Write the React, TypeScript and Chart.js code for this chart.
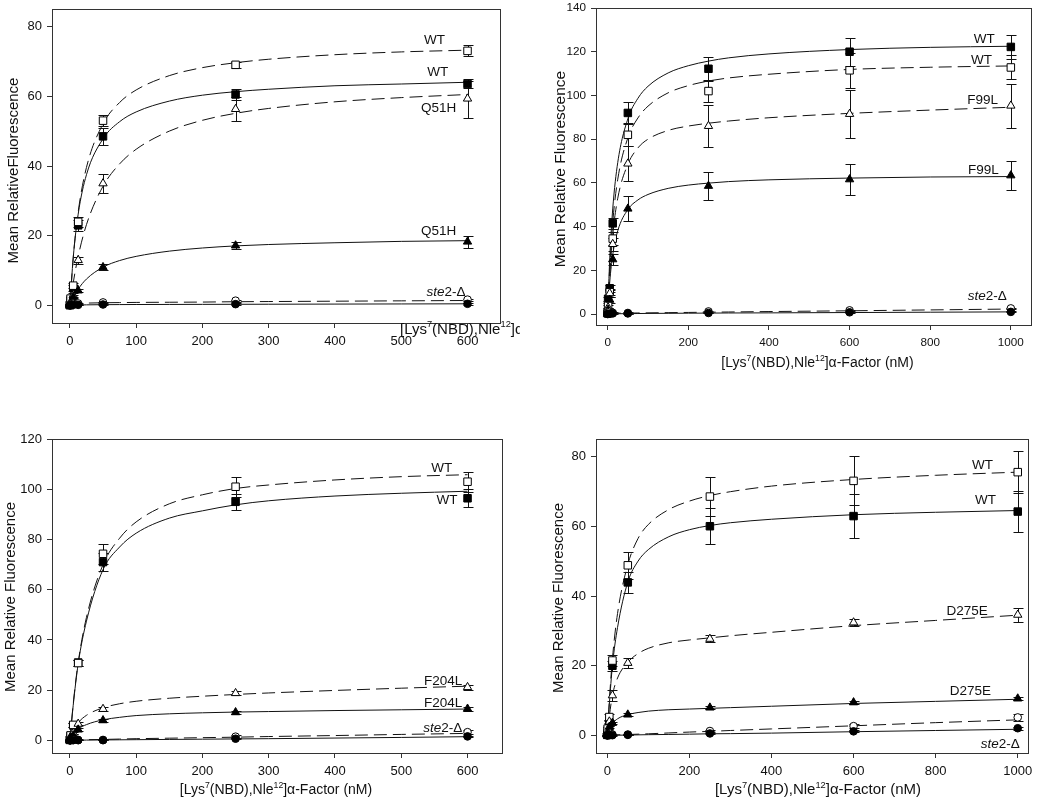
import React, { useEffect, useRef } from "react";
import { Chart, registerables } from "chart.js";

Chart.register(...registerables);

const FONT = "'Liberation Sans', Arial, Helvetica, sans-serif";

// ---------------- Panel A : Q51H ----------------
const concA = [0, 1, 5, 12.5, 50, 250, 600];
const wtOpenA = [0.2, 2.0, 5.7, 24.0, 53.0, 69.0, 73.0];
const wtOpenErrA = [0.3, 0.5, 0.8, 1.5, 1.6, 0.8, 1.6];
const wtFillA = [0.1, 1.5, 5.0, 23.0, 48.5, 60.5, 63.5];
const wtFillErrA = [0.2, 0.5, 0.8, 1.5, 2.5, 1.6, 1.0];
const q51hOpenA = [0.1, 1.0, 3.0, 13.0, 35.0, 56.3, 59.3];
const q51hOpenErrA = [0.2, 0.3, 0.5, 1.0, 2.8, 3.5, 5.6];
const q51hFillA = [0.0, 0.5, 2.5, 4.3, 11.0, 17.2, 18.3];
const q51hFillErrA = [0.1, 0.2, 0.4, 0.5, 0.8, 1.0, 1.7];
const steOpenA = [0.2, 0.3, 0.5, 0.6, 0.9, 1.4, 1.7];
const steOpenErrA = [0.2, 0.2, 0.2, 0.2, 0.2, 0.3, 0.3];
const steFillA = [0.0, 0.1, 0.2, 0.2, 0.3, 0.4, 0.5];
const steFillErrA = [0.1, 0.1, 0.1, 0.1, 0.1, 0.2, 0.2];

const curveXA = [0, 5, 12.5, 25, 50, 75, 100, 150, 200, 250, 300, 400, 500, 600];
const wtOpenCurveA = [0, 13.6, 26.8, 39.6, 52.1, 58.2, 61.8, 65.9, 68.2, 69.6, 70.6, 71.9, 72.7, 73.2];
const wtFillCurveA = [0, 13.7, 26.2, 37.5, 47.8, 52.7, 55.5, 58.6, 60.3, 61.3, 62.0, 63.0, 63.5, 64.0];
const q51hOpenCurveA = [0, 6.5, 14.1, 23.2, 34.2, 40.6, 44.8, 50.0, 53.1, 55.1, 56.5, 58.4, 59.6, 60.5];
const q51hFillCurveA = [0, 2.2, 4.7, 7.6, 11.0, 12.9, 14.1, 15.6, 16.5, 17.1, 17.5, 18.0, 18.4, 18.6];
const steOpenCurveA = [0.6, 0.6, 0.6, 0.7, 0.8, 0.85, 0.9, 0.95, 1.0, 1.1, 1.15, 1.25, 1.35, 1.45];
const steFillCurveA = [0, 0.1, 0.15, 0.2, 0.25, 0.28, 0.3, 0.32, 0.34, 0.36, 0.38, 0.42, 0.46, 0.5];

// ---------------- Panel B : F99L ----------------
const concB = [0, 1, 5, 12.5, 50, 250, 600, 1000];
const wtFillB = [0.5, 7.0, 11.8, 41.5, 92.0, 112.2, 120.0, 122.2];
const wtFillErrB = [0.3, 1.0, 1.5, 2.5, 4.8, 5.3, 6.5, 5.3];
const wtOpenB = [0.3, 4.0, 10.0, 34.5, 82.0, 102.0, 111.5, 112.8];
const wtOpenErrB = [0.3, 1.0, 1.5, 3.0, 5.0, 4.8, 8.0, 5.5];
const f99lOpenB = [0.2, 3.0, 9.5, 32.0, 68.8, 86.0, 91.5, 95.3];
const f99lOpenErrB = [0.3, 1.0, 1.5, 3.0, 8.0, 9.5, 11.0, 10.0];
const f99lFillB = [0.1, 2.0, 6.5, 25.0, 48.2, 58.6, 61.6, 63.4];
const f99lFillErrB = [0.2, 0.8, 1.5, 2.5, 5.7, 6.3, 7.2, 6.8];
const steOpenB = [0.5, 0.8, 1.0, 0.6, 0.5, 1.2, 1.7, 2.6];
const steOpenErrB = [0.3, 0.3, 0.3, 0.3, 0.3, 0.3, 0.3, 0.3];
const steFillB = [0.0, 0.1, 0.2, 0.3, 0.3, 0.5, 0.8, 1.0];
const steFillErrB = [0.1, 0.1, 0.1, 0.1, 0.1, 0.2, 0.2, 0.2];

const curveXB = [0, 5, 12.5, 25, 50, 75, 100, 150, 200, 250, 300, 400, 600, 800, 1000];
const wtFillCurveB = [0, 25.0, 48.1, 69.4, 89.3, 98.7, 104.2, 110.3, 113.6, 115.7, 117.2, 119.0, 121.0, 122.0, 122.5];
const wtOpenCurveB = [0, 21.1, 42.0, 61.7, 80.6, 89.7, 95.1, 101.2, 104.5, 106.6, 108.0, 109.7, 111.9, 112.9, 113.5];
const f99lOpenCurveB = [0, 17.0, 36.0, 53.0, 68.5, 76.0, 80.0, 84.0, 86.0, 87.3, 88.3, 89.8, 91.8, 93.3, 94.6];
const f99lFillCurveB = [0, 14.5, 27.1, 38.1, 47.8, 52.2, 54.7, 57.5, 59.0, 59.9, 60.6, 61.4, 62.2, 62.7, 62.9];
const steOpenCurveB = [0.3, 0.3, 0.35, 0.4, 0.45, 0.5, 0.55, 0.65, 0.75, 0.85, 0.95, 1.15, 1.5, 1.9, 2.3];
const steFillCurveB = [0, 0.05, 0.1, 0.15, 0.2, 0.25, 0.3, 0.35, 0.4, 0.45, 0.5, 0.55, 0.7, 0.85, 1.0];

// ---------------- Panel C : F204L ----------------
const concC = [0, 1, 5, 12.5, 50, 250, 600];
const wtOpenC = [0.3, 2.0, 6.2, 30.8, 74.3, 101.0, 103.0];
const wtOpenErrC = [0.3, 0.5, 0.8, 1.2, 4.0, 4.0, 4.0];
const wtFillC = [0.2, 1.8, 6.0, 31.0, 71.0, 95.0, 96.4];
const wtFillErrC = [0.3, 0.5, 0.8, 1.2, 3.5, 3.3, 3.6];
const f204lOpenC = [0.1, 1.5, 3.0, 6.6, 12.5, 18.8, 21.2];
const f204lOpenErrC = [0.2, 0.3, 0.5, 0.6, 0.8, 0.8, 1.0];
const f204lFillC = [0.0, 1.0, 2.0, 4.3, 8.0, 11.2, 12.6];
const f204lFillErrC = [0.1, 0.3, 0.4, 0.5, 0.6, 0.7, 0.8];
const steOpenC = [0.1, 0.2, 0.3, 0.2, 0.2, 1.5, 3.3];
const steOpenErrC = [0.2, 0.2, 0.2, 0.2, 0.2, 0.5, 0.8];
const steFillC = [0.0, 0.1, 0.1, 0.1, 0.1, 0.7, 1.6];
const steFillErrC = [0.1, 0.1, 0.1, 0.1, 0.1, 0.2, 0.3];

const curveXC = [0, 5, 12.5, 25, 50, 75, 100, 150, 200, 250, 300, 400, 500, 600];
const wtOpenCurveC = [0, 14.5, 31.0, 49.0, 70.0, 80.5, 87.0, 94.2, 97.8, 100.3, 101.7, 103.7, 105.0, 105.8];
const wtFillCurveC = [0, 14.0, 30.5, 47.5, 68.0, 77.0, 82.5, 88.5, 91.4, 93.8, 95.4, 97.3, 98.4, 99.2];
const f204lOpenCurveC = [0, 3.5, 7.0, 10.0, 13.0, 14.6, 15.6, 16.8, 17.6, 18.3, 18.9, 19.9, 20.8, 21.6];
const f204lFillCurveC = [0, 2.0, 4.5, 6.3, 8.2, 9.2, 9.9, 10.6, 11.0, 11.3, 11.5, 11.9, 12.2, 12.5];
const steOpenCurveC = [0.1, 0.15, 0.2, 0.3, 0.4, 0.55, 0.7, 0.9, 1.1, 1.3, 1.55, 1.95, 2.4, 2.8];
const steFillCurveC = [0, 0.05, 0.1, 0.15, 0.2, 0.25, 0.3, 0.4, 0.5, 0.6, 0.7, 0.95, 1.2, 1.5];

// ---------------- Panel D : D275E ----------------
const concD = [0, 1, 5, 12.5, 50, 250, 600, 1000];
const wtOpenD = [0.3, 2.0, 5.3, 21.5, 48.8, 68.5, 73.0, 75.5];
const wtOpenErrD = [0.3, 0.5, 0.8, 1.5, 3.8, 5.5, 7.0, 6.0];
const wtFillD = [0.2, 1.5, 3.5, 20.0, 43.9, 60.0, 62.9, 64.2];
const wtFillErrD = [0.3, 0.5, 0.8, 1.5, 3.0, 5.2, 6.3, 5.8];
const d275eOpenD = [0.1, 1.0, 4.0, 11.5, 20.8, 27.7, 32.4, 34.6];
const d275eOpenErrD = [0.2, 0.3, 0.5, 1.5, 1.5, 1.0, 1.0, 2.0];
const d275eFillD = [0.0, 0.8, 2.5, 3.6, 6.0, 8.0, 9.5, 10.6];
const d275eFillErrD = [0.1, 0.2, 0.3, 0.4, 0.4, 0.4, 0.5, 0.5];
const steOpenD = [0.1, 0.2, 0.3, 0.3, 0.3, 1.3, 2.7, 5.2];
const steOpenErrD = [0.2, 0.2, 0.2, 0.2, 0.2, 0.4, 0.6, 1.0];
const steFillD = [0.0, 0.1, 0.1, 0.1, 0.2, 0.6, 1.2, 2.1];
const steFillErrD = [0.1, 0.1, 0.1, 0.1, 0.1, 0.2, 0.3, 0.4];

const curveXD = [0, 5, 12.5, 25, 50, 75, 100, 150, 200, 250, 300, 400, 600, 800, 1000];
const wtOpenCurveD = [0, 10.0, 22.0, 35.0, 49.0, 56.5, 60.5, 64.8, 67.2, 68.8, 69.9, 71.5, 73.4, 74.6, 75.5];
const wtFillCurveD = [0, 9.0, 20.0, 31.0, 44.0, 50.0, 53.3, 57.0, 59.0, 60.2, 61.0, 62.0, 63.3, 64.0, 64.5];
const d275eOpenCurveD = [0, 5.5, 11.5, 16.5, 21.0, 23.5, 25.0, 26.6, 27.4, 28.0, 28.6, 29.6, 31.5, 33.0, 34.5];
const d275eFillCurveD = [0, 1.6, 3.4, 4.8, 6.0, 6.6, 7.0, 7.4, 7.6, 7.8, 8.0, 8.4, 9.2, 9.8, 10.4];
const steOpenCurveD = [0, 0.05, 0.1, 0.2, 0.3, 0.4, 0.5, 0.75, 1.0, 1.2, 1.45, 1.9, 2.8, 3.7, 4.5];
const steFillCurveD = [0, 0.03, 0.06, 0.1, 0.15, 0.2, 0.25, 0.32, 0.4, 0.5, 0.55, 0.7, 1.1, 1.45, 1.8];

// ---------------- text ----------------
const yTitleFull = "Mean Relative Fluorescence";
const yTitleA = "Mean RelativeFluorescence";
const xTitleFull: [string, boolean][] = [
  ["[Lys", false], ["7", true], ["(NBD),Nle", false], ["12", true], ["]\u03b1-Factor (nM)", false],
];
const xTitleA: [string, boolean][] = [
  ["[Lys", false], ["7", true], ["(NBD),Nle", false], ["12", true], ["]\u03b1", false],
];

type Series = { x: number[]; y: number[]; err: number[]; cx: number[]; cy: number[]; marker: "rect" | "triangle" | "circle"; filled: boolean };
type Label = { text: string; x: number; y: number; ste?: boolean };
type PanelCfg = {
  canvas: { left: number; top: number; w: number; h: number };
  box: { l: number; t: number; r: number; b: number };
  xMin: number; xMax: number; xStep: number;
  yMin: number; yMax: number; yStep: number;
  tickSize: number;
  yTitle: string; yTitleBase: number; yTitleMid: number; yTitleSize: number;
  xTitle: [string, boolean][]; xTitleX: number; xTitleBase: number; xTitleAlign: "left" | "center"; xTitleSize: number;
  series: Series[];
  labels: Label[];
};

const S = (x: number[], y: number[], err: number[], cx: number[], cy: number[], marker: Series["marker"], filled: boolean): Series => ({ x, y, err, cx, cy, marker, filled });

const panels: PanelCfg[] = [
  {
    canvas: { left: 0, top: 0, w: 520, h: 398 },
    box: { l: 52, t: 9, r: 500, b: 323 },
    xMin: -27, xMax: 649, xStep: 100, yMin: -5, yMax: 85, yStep: 20,
    tickSize: 13,
    yTitle: yTitleA, yTitleBase: 17.5, yTitleMid: 170.5, yTitleSize: 15,
    xTitle: xTitleA, xTitleX: 400, xTitleBase: 333.5, xTitleAlign: "left", xTitleSize: 15,
    series: [
      S(concA, steFillA, steFillErrA, curveXA, steFillCurveA, "circle", true),
      S(concA, steOpenA, steOpenErrA, curveXA, steOpenCurveA, "circle", false),
      S(concA, q51hFillA, q51hFillErrA, curveXA, q51hFillCurveA, "triangle", true),
      S(concA, q51hOpenA, q51hOpenErrA, curveXA, q51hOpenCurveA, "triangle", false),
      S(concA, wtOpenA, wtOpenErrA, curveXA, wtOpenCurveA, "rect", false),
      S(concA, wtFillA, wtFillErrA, curveXA, wtFillCurveA, "rect", true),
    ],
    labels: [
      { text: "WT", x: 566, y: 76 },
      { text: "WT", x: 571, y: 66.8 },
      { text: "Q51H", x: 583, y: 56.6 },
      { text: "Q51H", x: 583, y: 21.2 },
      { text: "", x: 597, y: 3.8, ste: true },
    ],
  },
  {
    canvas: { left: 520, top: 0, w: 530, h: 398 },
    box: { l: 596, t: 8, r: 1031, b: 325 },
    xMin: -29, xMax: 1050, xStep: 200, yMin: -5, yMax: 140, yStep: 20,
    tickSize: 11.7,
    yTitle: yTitleFull, yTitleBase: 565, yTitleMid: 169, yTitleSize: 15.5,
    xTitle: xTitleFull, xTitleX: 817.5, xTitleBase: 367, xTitleAlign: "center", xTitleSize: 14,
    series: [
      S(concB, steFillB, steFillErrB, curveXB, steFillCurveB, "circle", true),
      S(concB, steOpenB, steOpenErrB, curveXB, steOpenCurveB, "circle", false),
      S(concB, f99lFillB, f99lFillErrB, curveXB, f99lFillCurveB, "triangle", true),
      S(concB, f99lOpenB, f99lOpenErrB, curveXB, f99lOpenCurveB, "triangle", false),
      S(concB, wtOpenB, wtOpenErrB, curveXB, wtOpenCurveB, "rect", false),
      S(concB, wtFillB, wtFillErrB, curveXB, wtFillCurveB, "rect", true),
    ],
    labels: [
      { text: "WT", x: 960, y: 125.9 },
      { text: "WT", x: 953, y: 116 },
      { text: "F99L", x: 968, y: 97.7 },
      { text: "F99L", x: 970, y: 65.8 },
      { text: "", x: 990, y: 8, ste: true },
    ],
  },
  {
    canvas: { left: 0, top: 398, w: 520, h: 406 },
    box: { l: 52, t: 439, r: 502, b: 753 },
    xMin: -27, xMax: 652, xStep: 100, yMin: -5, yMax: 120, yStep: 20,
    tickSize: 13,
    yTitle: yTitleFull, yTitleBase: 15, yTitleMid: 597, yTitleSize: 15,
    xTitle: xTitleFull, xTitleX: 276, xTitleBase: 793.5, xTitleAlign: "center", xTitleSize: 14,
    series: [
      S(concC, steFillC, steFillErrC, curveXC, steFillCurveC, "circle", true),
      S(concC, steOpenC, steOpenErrC, curveXC, steOpenCurveC, "circle", false),
      S(concC, f204lFillC, f204lFillErrC, curveXC, f204lFillCurveC, "triangle", true),
      S(concC, f204lOpenC, f204lOpenErrC, curveXC, f204lOpenCurveC, "triangle", false),
      S(concC, wtOpenC, wtOpenErrC, curveXC, wtOpenCurveC, "rect", false),
      S(concC, wtFillC, wtFillErrC, curveXC, wtFillCurveC, "rect", true),
    ],
    labels: [
      { text: "WT", x: 577, y: 108.2 },
      { text: "WT", x: 585, y: 95.7 },
      { text: "F204L", x: 592, y: 23.6 },
      { text: "F204L", x: 592, y: 14.9 },
      { text: "", x: 592, y: 4.9, ste: true },
    ],
  },
  {
    canvas: { left: 520, top: 398, w: 530, h: 406 },
    box: { l: 596, t: 439, r: 1028, b: 753 },
    xMin: -27.5, xMax: 1025, xStep: 200, yMin: -5, yMax: 85, yStep: 20,
    tickSize: 13,
    yTitle: yTitleFull, yTitleBase: 563.3, yTitleMid: 598, yTitleSize: 15,
    xTitle: xTitleFull, xTitleX: 818, xTitleBase: 794, xTitleAlign: "center", xTitleSize: 15,
    series: [
      S(concD, steFillD, steFillErrD, curveXD, steFillCurveD, "circle", true),
      S(concD, steOpenD, steOpenErrD, curveXD, steOpenCurveD, "circle", false),
      S(concD, d275eFillD, d275eFillErrD, curveXD, d275eFillCurveD, "triangle", true),
      S(concD, d275eOpenD, d275eOpenErrD, curveXD, d275eOpenCurveD, "triangle", false),
      S(concD, wtOpenD, wtOpenErrD, curveXD, wtOpenCurveD, "rect", false),
      S(concD, wtFillD, wtFillErrD, curveXD, wtFillCurveD, "rect", true),
    ],
    labels: [
      { text: "WT", x: 940, y: 77.5 },
      { text: "WT", x: 947, y: 67.5 },
      { text: "D275E", x: 927, y: 35.6 },
      { text: "D275E", x: 935, y: 12.6 },
      { text: "", x: 1005, y: -2.4, ste: true },
    ],
  },
];

const RADIUS: Record<string, number> = { rect: 5.3, triangle: 4.8, circle: 3.8 };
const INK = "#111";
const LABEL_SIZE = 13.5;

function drawRich(ctx: CanvasRenderingContext2D, parts: [string, boolean][], x: number, y: number, size: number, align: string) {
  const fMain = `${size}px ${FONT}`;
  const fSup = `${(size * 0.62).toFixed(2)}px ${FONT}`;
  let w = 0;
  parts.forEach(([t, sup]) => {
    ctx.font = sup ? fSup : fMain;
    w += ctx.measureText(t).width;
  });
  let cx = align === "center" ? x - w / 2 : x;
  ctx.textAlign = "left";
  ctx.textBaseline = "alphabetic";
  parts.forEach(([t, sup]) => {
    ctx.font = sup ? fSup : fMain;
    ctx.fillText(t, cx, sup ? y - size * 0.42 : y);
    cx += ctx.measureText(t).width;
  });
}

function makeDecor(cfg: PanelCfg) {
  const ox = cfg.canvas.left;
  const oy = cfg.canvas.top;
  return {
    id: "decor",
    beforeDatasetsDraw(chart: any) {
      const ctx: CanvasRenderingContext2D = chart.ctx;
      const xs = chart.scales.x;
      const ys = chart.scales.y;
      ctx.save();
      ctx.strokeStyle = INK;
      ctx.lineWidth = 1;
      chart.data.datasets.forEach((ds: any) => {
        const errs: number[] | undefined = ds.errors;
        if (!errs) return;
        ds.data.forEach((p: any, i: number) => {
          const e = errs[i];
          if (!e) return;
          const px = Math.round(xs.getPixelForValue(p.x)) + 0.5;
          const top = Math.round(ys.getPixelForValue(p.y + e)) + 0.5;
          const bot = Math.round(ys.getPixelForValue(p.y - e)) + 0.5;
          ctx.beginPath();
          ctx.moveTo(px, top);
          ctx.lineTo(px, bot);
          ctx.moveTo(px - 5, top);
          ctx.lineTo(px + 5, top);
          ctx.moveTo(px - 5, bot);
          ctx.lineTo(px + 5, bot);
          ctx.stroke();
        });
      });
      ctx.restore();
    },
    afterDraw(chart: any) {
      const ctx: CanvasRenderingContext2D = chart.ctx;
      const a = chart.chartArea;
      const xs = chart.scales.x;
      const ys = chart.scales.y;
      ctx.save();
      // plot frame
      ctx.strokeStyle = "#333";
      ctx.lineWidth = 1;
      ctx.strokeRect(Math.round(a.left) + 0.5, Math.round(a.top) + 0.5, Math.round(a.right - a.left), Math.round(a.bottom - a.top));
      ctx.fillStyle = INK;
      // y title
      ctx.save();
      ctx.translate(cfg.yTitleBase - ox, cfg.yTitleMid - oy);
      ctx.rotate(-Math.PI / 2);
      ctx.font = `${cfg.yTitleSize}px ${FONT}`;
      ctx.textAlign = "center";
      ctx.textBaseline = "alphabetic";
      ctx.fillText(cfg.yTitle, 0, 0);
      ctx.restore();
      // x title
      drawRich(ctx, cfg.xTitle, cfg.xTitleX - ox, cfg.xTitleBase - oy, cfg.xTitleSize, cfg.xTitleAlign);
      // curve labels
      cfg.labels.forEach((l) => {
        const rx = xs.getPixelForValue(l.x);
        const my = ys.getPixelForValue(l.y);
        ctx.textBaseline = "middle";
        ctx.textAlign = "left";
        if (l.ste) {
          const fi = `italic ${LABEL_SIZE}px ${FONT}`;
          const fr = `${LABEL_SIZE}px ${FONT}`;
          ctx.font = fi;
          const w1 = ctx.measureText("ste").width;
          ctx.font = fr;
          const w2 = ctx.measureText("2-\u0394").width;
          const sx = rx - w1 - w2;
          ctx.font = fi;
          ctx.fillText("ste", sx, my);
          ctx.font = fr;
          ctx.fillText("2-\u0394", sx + w1, my);
        } else {
          ctx.font = `${LABEL_SIZE}px ${FONT}`;
          ctx.textAlign = "right";
          ctx.fillText(l.text, rx, my);
        }
      });
      ctx.restore();
    },
  };
}

function Panel({ cfg }: { cfg: PanelCfg }) {
  const ref = useRef<HTMLCanvasElement>(null);
  useEffect(() => {
    const c = cfg.canvas;
    const b = cfg.box;
    const datasets: any[] = [];
    cfg.series.forEach((s) => {
      datasets.push({
        type: "scatter",
        data: s.x.map((v, i) => ({ x: v, y: s.y[i] })),
        errors: s.err,
        showLine: false,
        pointStyle: s.marker,
        pointRadius: RADIUS[s.marker],
        pointBackgroundColor: s.filled ? "#000" : "#fff",
        pointBorderColor: "#000",
        pointBorderWidth: 1,
        order: 0,
        clip: false,
      });
      datasets.push({
        type: "line",
        data: s.cx.map((v, i) => ({ x: v, y: s.cy[i] })),
        borderColor: INK,
        borderWidth: 1,
        borderDash: s.filled ? [] : [13, 6],
        pointRadius: 0,
        fill: false,
        cubicInterpolationMode: "monotone",
        order: 1,
      });
    });
    const tickFont = { family: FONT, size: cfg.tickSize };
    const zeroPad = (sc: any) => {
      sc.paddingTop = 0;
      sc.paddingBottom = 0;
      sc.paddingLeft = 0;
      sc.paddingRight = 0;
    };
    const chart = new Chart(ref.current as HTMLCanvasElement, {
      type: "scatter",
      data: { datasets },
      options: {
        animation: false,
        responsive: false,
        devicePixelRatio: 1,
        events: [],
        layout: { padding: { left: 0, top: b.t - c.top, right: c.left + c.w - b.r, bottom: 0 } },
        plugins: { legend: { display: false }, tooltip: { enabled: false } },
        scales: {
          x: {
            type: "linear",
            min: cfg.xMin,
            max: cfg.xMax,
            afterFit: (sc: any) => {
              sc.height = c.top + c.h - b.b;
              zeroPad(sc);
            },
            ticks: {
              stepSize: cfg.xStep,
              includeBounds: false,
              autoSkip: false,
              maxRotation: 0,
              font: tickFont,
              color: INK,
              padding: 6,
              callback: (v: any) => String(v),
            },
            grid: { display: true, drawOnChartArea: false, drawTicks: true, tickLength: 5, color: "#333" },
            border: { display: false },
          },
          y: {
            type: "linear",
            min: cfg.yMin,
            max: cfg.yMax,
            afterFit: (sc: any) => {
              sc.width = b.l - c.left;
              zeroPad(sc);
            },
            ticks: {
              stepSize: cfg.yStep,
              includeBounds: false,
              autoSkip: false,
              font: tickFont,
              color: INK,
              padding: 5,
              callback: (v: any) => String(v),
            },
            grid: { display: true, drawOnChartArea: false, drawTicks: true, tickLength: 5, color: "#333" },
            border: { display: false },
          },
        },
      } as any,
      plugins: [makeDecor(cfg) as any],
    });
    return () => chart.destroy();
  }, [cfg]);
  const c = cfg.canvas;
  return (
    <canvas
      ref={ref}
      width={c.w}
      height={c.h}
      style={{ position: "absolute", left: c.left, top: c.top, width: c.w, height: c.h }}
    />
  );
}

export default function App() {
  return (
    <div style={{ position: "absolute", left: 0, top: 0, width: 1050, height: 804, background: "#fff", overflow: "hidden" }}>
      {panels.map((p, i) => (
        <Panel key={i} cfg={p} />
      ))}
    </div>
  );
}
